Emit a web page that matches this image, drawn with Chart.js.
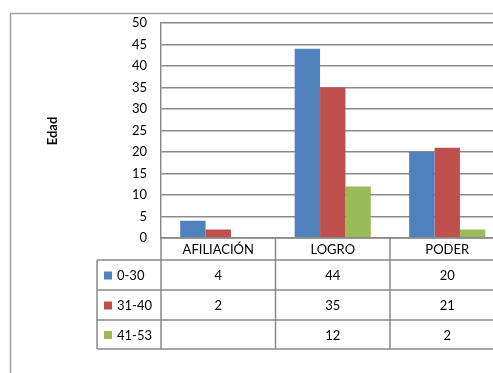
<!DOCTYPE html>
<html>
<head>
<meta charset="utf-8">
<script src="https://cdn.jsdelivr.net/npm/chart.js@4"></script>
<style>
  html, body { margin:0; padding:0; background:#fff; overflow:hidden; width:493px; height:373px; }
  canvas { display:block; }
</style>
</head>
<body>
<canvas id="c" width="510" height="373"></canvas>
<script>
// ── Data ──────────────────────────────────────────────────────────
const categories = ["AFILIACIÓN", "LOGRO", "PODER"];
const seriesNames = ["0-30", "31-40", "41-53"];
const s0_30  = [4, 44, 20];
const s31_40 = [2, 35, 21];
const s41_53 = [null, 12, 2];
const yTicks = [0, 5, 10, 15, 20, 25, 30, 35, 40, 45, 50];

const COLORS = ["#4f81bd", "#c0504d", "#9bbb59"];
const FONT = "Lato, 'Liberation Sans', sans-serif";
const LINE = "#8a8a8a";

// ── Data table + frame drawn under the plot ───────────────────────
const tablePlugin = {
  id: "dataTable",
  afterDraw(chart) {
    const ctx = chart.ctx;
    const ca = chart.chartArea;
    const xs = chart.scales.x;
    const series = chart.data.datasets;
    const n = categories.length;
    const half = (xs.getPixelForValue(1) - xs.getPixelForValue(0)) / 2;
    const rowsY = [ca.bottom, 260, 290, 320, 349];
    const legendLeft = 97;

    ctx.save();
    // outer frame
    ctx.strokeStyle = "#a0a0a0";
    ctx.lineWidth = 1.5;
    ctx.beginPath();
    ctx.moveTo(10.5, 380); ctx.lineTo(10.5, 13.5); ctx.lineTo(520, 13.5);
    ctx.stroke();

    // table lines
    ctx.strokeStyle = LINE;
    ctx.lineWidth = 1.5;
    ctx.beginPath();
    rowsY.forEach((y, i) => {
      ctx.moveTo(i === 0 ? ca.left : legendLeft, y);
      ctx.lineTo(ca.right, y);
    });
    ctx.moveTo(legendLeft, rowsY[1]); ctx.lineTo(legendLeft, rowsY[4]);
    ctx.moveTo(ca.left, rowsY[0]); ctx.lineTo(ca.left, rowsY[4]);
    for (let i = 0; i < n; i++) {
      const xr = xs.getPixelForValue(i) + half;
      ctx.moveTo(xr, rowsY[0]); ctx.lineTo(xr, rowsY[4]);
    }
    ctx.stroke();

    // header labels
    ctx.fillStyle = "#000";
    ctx.font = "13px " + FONT;
    ctx.textAlign = "center";
    ctx.textBaseline = "middle";
    categories.forEach((c, i) => {
      ctx.fillText(c, xs.getPixelForValue(i), (rowsY[0] + rowsY[1]) / 2 + 1);
    });

    // rows
    series.forEach((ds, r) => {
      const yc = (rowsY[r + 1] + rowsY[r + 2]) / 2 + 1;
      ctx.fillStyle = COLORS[r];
      ctx.fillRect(104, yc - 4.5, 8, 8);
      ctx.fillStyle = "#000";
      ctx.textAlign = "left";
      ctx.fillText(ds.label, 117, yc);
      ctx.textAlign = "center";
      ds.data.forEach((v, i) => {
        if (v !== null) ctx.fillText(String(v), xs.getPixelForValue(i), yc);
      });
    });

    // axis title
    ctx.translate(53, 131);
    ctx.rotate(-Math.PI / 2);
    ctx.font = "bold 13px " + FONT;
    ctx.textAlign = "center";
    ctx.fillText("Edad", 0, 0);
    ctx.restore();
  }
};

new Chart(document.getElementById("c"), {
  type: "bar",
  data: {
    labels: categories,
    datasets: [
      { label: seriesNames[0], data: s0_30,  backgroundColor: COLORS[0] },
      { label: seriesNames[1], data: s31_40, backgroundColor: COLORS[1] },
      { label: seriesNames[2], data: s41_53, backgroundColor: COLORS[2] }
    ]
  },
  options: {
    responsive: false,
    animation: false,
    devicePixelRatio: 1,
    layout: { padding: { left: 0, top: 23, right: 5.5, bottom: 135 } },
    categoryPercentage: 0.665,
    barPercentage: 1,
    plugins: { legend: { display: false }, tooltip: { enabled: false } },
    scales: {
      x: { display: false },
      y: {
        min: 0, max: 50,
        afterFit: s => { s.width = 161; },
        afterBuildTicks: s => { s.ticks = yTicks.map(v => ({ value: v })); },
        ticks: { color: "#000", padding: 14, font: { size: 13, family: FONT } },
        grid: { color: LINE, lineWidth: 1.5, drawTicks: false },
        border: { color: LINE, width: 1.5 }
      }
    }
  },
  plugins: [tablePlugin]
});
</script>
</body>
</html>
